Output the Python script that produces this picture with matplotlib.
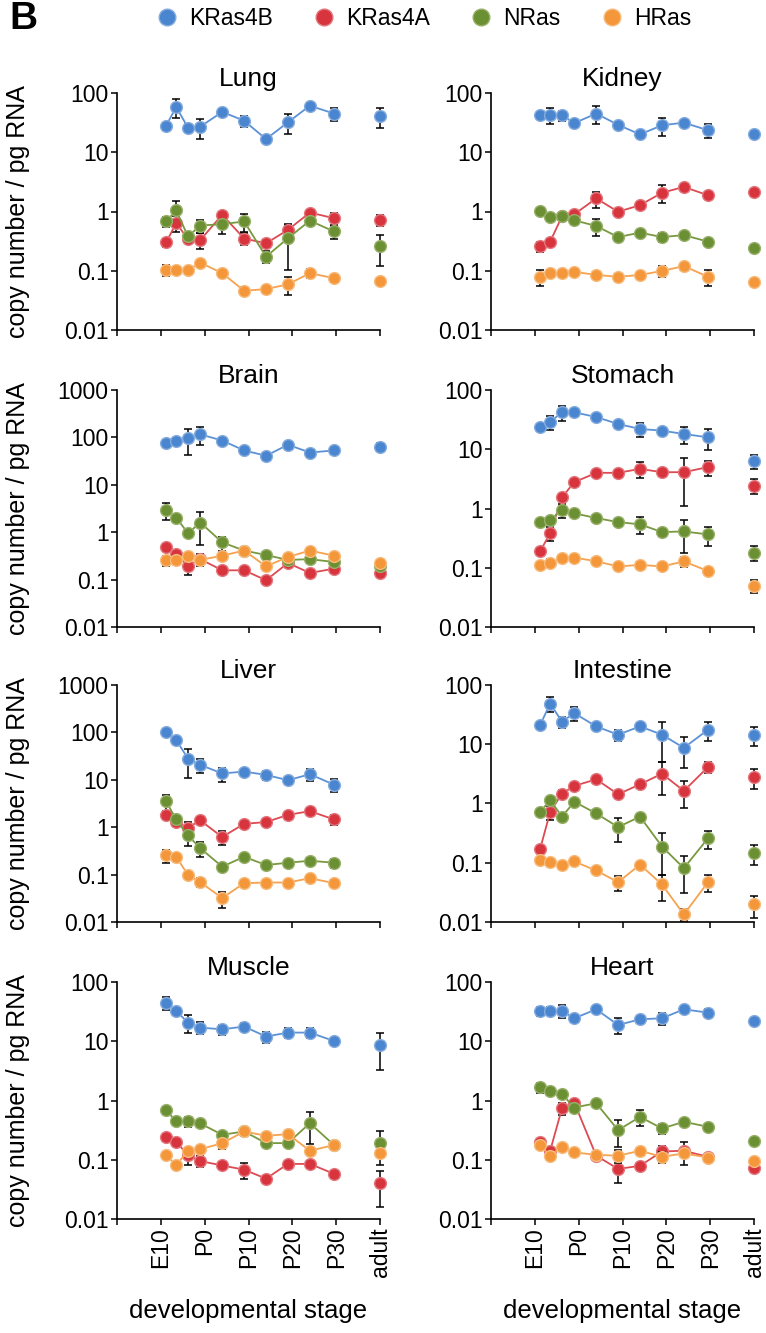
import numpy as np
import matplotlib
matplotlib.use('Agg')
import matplotlib.pyplot as plt
from matplotlib.ticker import FixedLocator, FixedFormatter, NullLocator
from matplotlib.lines import Line2D

plt.rcParams['font.family'] = ['Liberation Sans', 'DejaVu Sans']

nan = np.nan

# developmental stage positions (days relative to birth), adult drawn at the end
stage_x = [-8.8, -6.5, -3.8, -1, 4, 9, 14, 19, 24, 29.5]
adult_x = 40
stage_ticks = [-20, -10, 0, 10, 20, 30, 40]
stage_labels = ['', 'E10', 'P0', 'P10', 'P20', 'P30', 'adult']

isoforms = ['KRas4B', 'KRas4A', 'NRas', 'HRas']

# --- Lung ---
lung_4b = [28, 58, 26, 27, 48, 34, 16.7, 32, 61, 45, 41]
lung_4b_err = [0, 20, 4, 10, 0, 7, 0, 12, 0, 11, 15]
lung_4a = [0.30, 0.64, 0.34, 0.33, 0.88, 0.35, 0.29, 0.49, 0.96, 0.77, 0.72]
lung_4a_err = [0.05, 0.19, 0, 0.1, 0.1, 0.08, 0, 0.1, 0, 0.17, 0.15]
lung_n = [0.68, 1.04, 0.38, 0.58, 0.61, 0.68, 0.173, 0.354, 0.70, 0.46, 0.26]
lung_n_err = [0.14, 0.44, 0, 0.14, 0.2, 0.23, 0.04, 0.25, 0, 0.12, 0.14]
lung_h = [0.103, 0.103, 0.103, 0.137, 0.091, 0.046, 0.049, 0.059, 0.091, 0.075, 0.068]
lung_h_err = [0.02, 0, 0, 0, 0, 0.007, 0, 0.02, 0.015, 0, 0]

# --- Kidney ---
kidney_4b = [43, 43, 42, 31, 45, 29, 20, 28.5, 31.6, 23.5, 20]
kidney_4b_err = [0, 13, 8, 0, 15, 0, 0, 10, 0, 6, 0]
kidney_4a = [0.26, 0.31, 0.83, 0.90, 1.66, 0.99, 1.28, 2.07, 2.6, 1.88, 2.14]
kidney_4a_err = [0.05, 0, 0, 0, 0.5, 0.1, 0, 0.7, 0, 0, 0]
kidney_n = [1.03, 0.81, 0.83, 0.71, 0.57, 0.37, 0.44, 0.37, 0.40, 0.31, 0.24]
kidney_n_err = [0, 0, 0, 0, 0.19, 0, 0, 0.06, 0, 0, 0]
kidney_h = [0.079, 0.09, 0.09, 0.096, 0.085, 0.079, 0.085, 0.099, 0.12, 0.079, 0.065]
kidney_h_err = [0.024, 0, 0, 0, 0, 0, 0, 0.02, 0.016, 0.024, 0]

# --- Brain ---
brain_4b = [77, 86, 98, 116, 86, 53, 41, 70, 48, 53, 63]
brain_4b_err = [0, 0, 55, 46, 0, 0, 0, 0, 0, 0, 12]
brain_4a = [0.48, 0.35, 0.197, 0.27, 0.157, 0.157, 0.097, 0.224, 0.138, 0.17, 0.14]
brain_4a_err = [0, 0, 0.07, 0.08, 0, 0, 0, 0, 0, 0, 0]
brain_n = [2.94, 2.03, 0.95, 1.6, 0.61, 0.41, 0.33, 0.26, 0.27, 0.235, 0.197]
brain_n_err = [1.1, 0, 0, 1.05, 0.2, 0.08, 0, 0, 0, 0, 0]
brain_h = [0.255, 0.255, 0.32, 0.26, 0.32, 0.41, 0.19, 0.30, 0.41, 0.32, 0.224]
brain_h_err = [0.06, 0, 0, 0, 0, 0, 0, 0, 0, 0, 0]

# --- Stomach ---
stomach_4b = [24, 29, 42, 42, 35, 26.7, 22, 20.6, 18.1, 15.9, 6.4]
stomach_4b_err = [0, 8, 12, 0, 0, 0, 6, 0, 6, 6, 1.7]
stomach_4a = [0.19, 0.38, 1.55, 2.78, 4.0, 4.0, 4.66, 4.1, 4.1, 5.0, 2.44]
stomach_4a_err = [0, 0.1, 0, 0, 0, 0, 1.4, 0, 3, 1.4, 0.7]
stomach_n = [0.59, 0.63, 0.95, 0.83, 0.69, 0.59, 0.54, 0.40, 0.41, 0.365, 0.18]
stomach_n_err = [0, 0, 0.25, 0, 0, 0, 0.17, 0, 0.23, 0.13, 0.05]
stomach_h = [0.112, 0.121, 0.148, 0.148, 0.129, 0.105, 0.112, 0.105, 0.128, 0.088, 0.050]
stomach_h_err = [0, 0.02, 0, 0, 0, 0, 0.015, 0, 0.025, 0, 0.013]

# --- Liver (no adult sample) ---
liver_4b = [102, 69, 28, 20.6, 13.6, 14.9, 12.7, 9.8, 13.1, 7.9, nan]
liver_4b_err = [0, 0, 17, 6.5, 4.5, 0, 3, 0, 3.5, 2.4, 0]
liver_4a = [1.77, 1.28, 0.98, 1.39, 0.62, 1.18, 1.28, 1.82, 2.18, 1.46, nan]
liver_4a_err = [0, 0, 0.3, 0, 0.2, 0, 0, 0, 0, 0.35, 0]
liver_n = [3.5, 1.46, 0.67, 0.36, 0.147, 0.238, 0.159, 0.178, 0.196, 0.178, nan]
liver_n_err = [1.3, 0, 0.26, 0.13, 0.03, 0, 0, 0.03, 0, 0.04, 0]
liver_h = [0.258, 0.238, 0.098, 0.069, 0.032, 0.066, 0.068, 0.068, 0.084, 0.066, nan]
liver_h_err = [0.08, 0, 0, 0.014, 0.012, 0, 0, 0, 0, 0.012, 0]

# --- Intestine ---
intestine_4b = [21, 48.6, 24, 33.5, 20, 14.5, 20, 14.5, 8.7, 17.6, 14.5]
intestine_4b_err = [0, 14, 5, 9, 0, 3, 0, 9.5, 4.8, 6.3, 5.3]
intestine_4a = [0.17, 0.72, 1.47, 1.98, 2.56, 1.43, 2.11, 3.18, 1.63, 4.12, 2.8]
intestine_4a_err = [0, 0.2, 0.2, 0, 0, 0, 0, 1.8, 0.8, 0.9, 1.06]
intestine_n = [0.72, 1.14, 0.60, 1.07, 0.68, 0.40, 0.60, 0.188, 0.081, 0.259, 0.145]
intestine_n_err = [0, 0, 0, 0, 0, 0.18, 0, 0.125, 0.05, 0.09, 0.055]
intestine_h = [0.112, 0.101, 0.093, 0.105, 0.074, 0.047, 0.093, 0.043, 0.0134, 0.047, 0.0198]
intestine_h_err = [0, 0, 0, 0, 0, 0.013, 0, 0.02, 0.003, 0.015, 0.008]

# --- Muscle ---
muscle_4b = [44.8, 32.4, 20.6, 17, 15.9, 17.7, 12, 14, 14, 10.1, 8.6]
muscle_4b_err = [11, 0, 6.8, 3.8, 3, 2.4, 2.5, 2.5, 2.5, 0, 5.3]
muscle_4a = [0.24, 0.2, 0.12, 0.095, 0.08, 0.068, 0.048, 0.085, 0.085, 0.058, 0.04]
muscle_4a_err = [0, 0, 0.04, 0.02, 0, 0.02, 0, 0, 0, 0, 0.024]
muscle_n = [0.687, 0.443, 0.443, 0.41, 0.264, 0.30, 0.191, 0.191, 0.415, 0.177, 0.191]
muscle_n_err = [0, 0, 0.08, 0, 0, 0, 0, 0, 0.23, 0, 0.11]
muscle_h = [0.12, 0.081, 0.142, 0.151, 0.19, 0.30, 0.254, 0.27, 0.142, 0.177, 0.128]
muscle_h_err = [0, 0, 0, 0, 0.04, 0.05, 0, 0.04, 0, 0, 0]

# --- Heart ---
heart_4b = [32.4, 32.4, 32.4, 24.4, 34.6, 18.8, 23.5, 24.4, 34.6, 30.4, 22]
heart_4b_err = [6, 5, 8, 0, 0, 5.6, 0, 5.5, 0, 5, 0]
heart_4a = [0.196, 0.142, 0.74, 0.92, 0.117, 0.07, 0.079, 0.138, 0.142, 0.112, 0.072]
heart_4a_err = [0, 0, 0.18, 0, 0, 0.03, 0, 0.035, 0.06, 0, 0]
heart_n = [1.66, 1.46, 1.28, 0.76, 0.90, 0.316, 0.53, 0.337, 0.437, 0.36, 0.204]
heart_n_err = [0.3, 0, 0, 0, 0, 0.15, 0.16, 0.07, 0, 0, 0]
heart_h = [0.177, 0.117, 0.166, 0.133, 0.121, 0.117, 0.142, 0.112, 0.128, 0.109, 0.096]
heart_h_err = [0, 0, 0, 0, 0, 0.03, 0, 0.025, 0, 0, 0]

face_colors = ['#4a86cf', '#d7343e', '#6b8f33', '#f4963a']
edge_colors = ['#86acdd', '#e2777d', '#98b06a', '#f7bb7d']
line_colors = ['#5b92d6', '#dd4a52', '#78993f', '#f6a24f']

panels = [
    ('Lung', 100, [lung_4b, lung_4a, lung_n, lung_h],
     [lung_4b_err, lung_4a_err, lung_n_err, lung_h_err]),
    ('Kidney', 100, [kidney_4b, kidney_4a, kidney_n, kidney_h],
     [kidney_4b_err, kidney_4a_err, kidney_n_err, kidney_h_err]),
    ('Brain', 1000, [brain_4b, brain_4a, brain_n, brain_h],
     [brain_4b_err, brain_4a_err, brain_n_err, brain_h_err]),
    ('Stomach', 100, [stomach_4b, stomach_4a, stomach_n, stomach_h],
     [stomach_4b_err, stomach_4a_err, stomach_n_err, stomach_h_err]),
    ('Liver', 1000, [liver_4b, liver_4a, liver_n, liver_h],
     [liver_4b_err, liver_4a_err, liver_n_err, liver_h_err]),
    ('Intestine', 100, [intestine_4b, intestine_4a, intestine_n, intestine_h],
     [intestine_4b_err, intestine_4a_err, intestine_n_err, intestine_h_err]),
    ('Muscle', 100, [muscle_4b, muscle_4a, muscle_n, muscle_h],
     [muscle_4b_err, muscle_4a_err, muscle_n_err, muscle_h_err]),
    ('Heart', 100, [heart_4b, heart_4a, heart_n, heart_h],
     [heart_4b_err, heart_4a_err, heart_n_err, heart_h_err]),
]

fig = plt.figure(figsize=(7.66, 13.33), dpi=100)

col_left = [117 / 766, 491 / 766]
ax_w = 263 / 766
row_bottom = [1 - 330 / 1333, 1 - 627 / 1333, 1 - 922 / 1333, 1 - 1219 / 1333]
ax_h = 237 / 1333

xs = stage_x + [adult_x]

for i, (name, ytop, series, errs) in enumerate(panels):
    row, col = divmod(i, 2)
    ax = fig.add_axes([col_left[col], row_bottom[row], ax_w, ax_h])
    ax.set_yscale('log')
    ax.set_ylim(0.01, ytop)
    ax.set_xlim(-20, 40)

    for k in range(4):
        vals = np.array(series[k], dtype=float)
        sd = np.array(errs[k], dtype=float)
        lo = np.minimum(sd, vals * 0.9)
        # error bars first, markers on top
        ax.errorbar(xs, vals, yerr=[lo, sd], fmt='none', ecolor='black',
                    elinewidth=1.1, capsize=3, capthick=1.1, zorder=2 + k,
                    clip_on=False)
        ax.plot(stage_x, vals[:10], '-', color=line_colors[k], lw=1.3,
                zorder=3 + k, clip_on=False)
        ax.plot(xs, vals, 'o', ms=8.5, mfc=face_colors[k], mec=edge_colors[k],
                mew=1.0, zorder=4 + k, clip_on=False)

    yt = [0.01, 0.1, 1, 10, 100, 1000]
    yt = [t for t in yt if t <= ytop]
    ax.yaxis.set_major_locator(FixedLocator(yt))
    ax.yaxis.set_major_formatter(FixedFormatter([('%g' % t) for t in yt]))
    ax.yaxis.set_minor_locator(NullLocator())

    ax.xaxis.set_major_locator(FixedLocator(stage_ticks))
    if row == 3:
        ax.set_xticklabels(stage_labels, rotation=90, fontsize=17)
        ax.set_xlabel('developmental stage', fontsize=18.5, labelpad=16)
    else:
        ax.set_xticklabels([''] * len(stage_ticks))

    for s in ['top', 'right']:
        ax.spines[s].set_visible(False)
    for s in ['left', 'bottom']:
        ax.spines[s].set_linewidth(1.2)
    ax.tick_params(axis='both', direction='out', length=4, width=1.1,
                   labelsize=16.5, pad=2)

    ax.set_title(name, fontsize=19, pad=5)
    if col == 0:
        ax.set_ylabel('copy number / pg RNA', fontsize=18)
        ax.yaxis.set_label_coords(-0.33, 0.5)

handles = [Line2D([], [], ls='none', marker='o', ms=12, mfc=face_colors[k],
                  mec=edge_colors[k], mew=1.0) for k in range(4)]
fig.legend(handles, isoforms, loc='upper center', bbox_to_anchor=(0.548, 1.005),
           ncol=4, frameon=False, fontsize=16.5, handletextpad=0.15,
           columnspacing=1.45, handlelength=1.6, borderaxespad=0.2)

fig.text(0.012, 0.999, 'B', fontsize=28, fontweight='bold',
         va='top', ha='left')

fig.savefig('out.png', dpi=100)
